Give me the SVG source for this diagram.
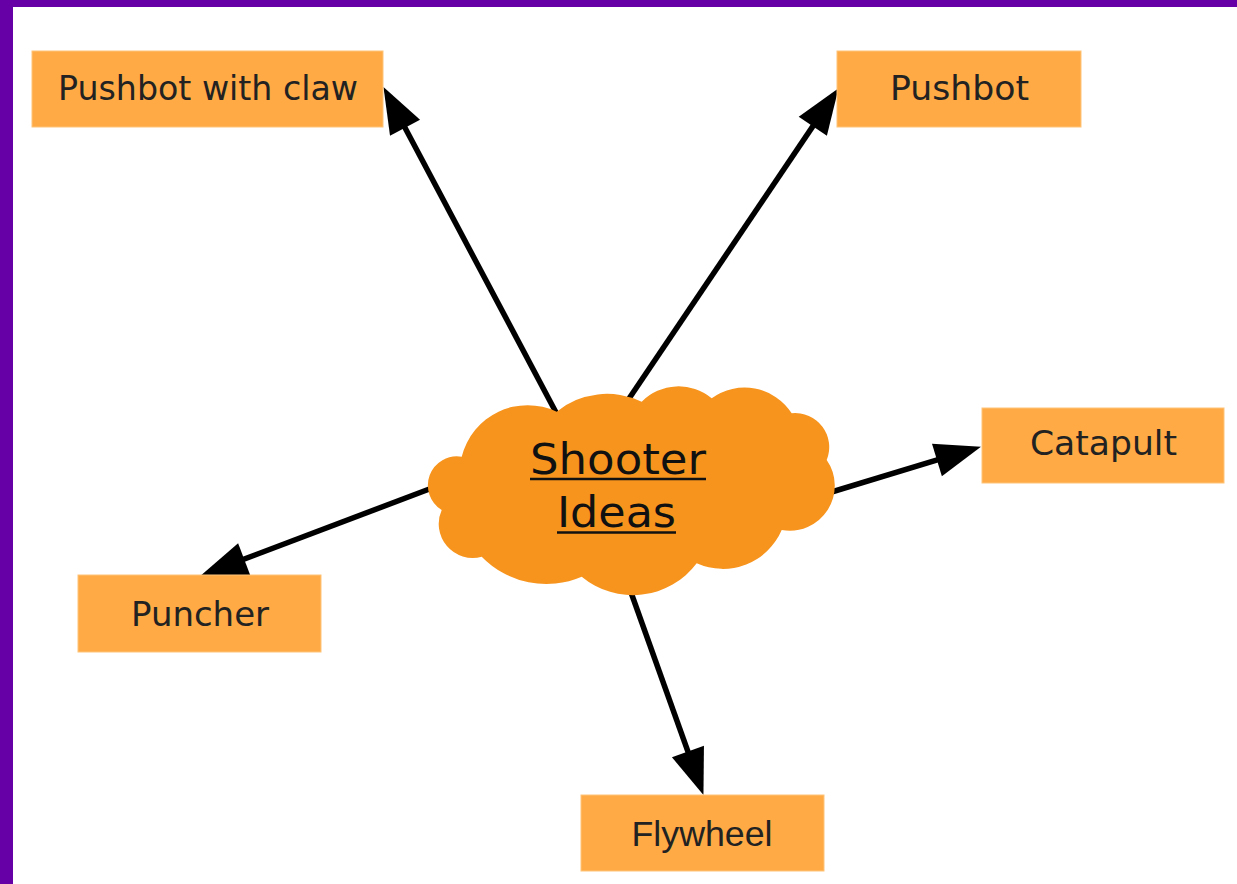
<svg xmlns="http://www.w3.org/2000/svg" width="1237" height="884" viewBox="0 0 1237 884">
<style>
.box{fill:#ffaa44;stroke:#ffc47a;stroke-width:1}
.lbl{font-family:"DejaVu Sans","Liberation Sans",sans-serif;font-size:33px;fill:#222;text-anchor:middle}
.cond{font-family:"Liberation Sans",Arial,sans-serif;font-size:35px;fill:#222;text-anchor:middle}
.title{font-family:"DejaVu Sans","Liberation Sans",sans-serif;font-size:42px;fill:#111;text-anchor:middle}
.edge{stroke:#000;stroke-width:5.5;fill:none;marker-end:url(#arr)}
.ul{stroke:#111;stroke-width:2.5}
</style>
<defs>
<marker id="arr" markerUnits="userSpaceOnUse" markerWidth="48" markerHeight="36" viewBox="0 -18 48 36" refX="15" refY="0" orient="auto" overflow="visible">
<path d="M0,-17 L46,0 L0,17 z" fill="#000"/>
</marker>
</defs>
<rect x="0" y="0" width="1237" height="884" fill="#ffffff"/>
<rect x="0" y="0" width="1237" height="7" fill="#6600a6"/>
<rect x="0" y="0" width="13" height="884" fill="#6600a6"/>
<g id="connectors">
<line class="edge" x1="560" y1="420" x2="398" y2="114.5"/>
<line class="edge" x1="624" y1="406" x2="821.2" y2="113.9"/>
<line class="edge" x1="825" y1="494" x2="951.3" y2="455.7"/>
<line class="edge" x1="440" y1="485" x2="230.1" y2="564.4"/>
<line class="edge" x1="628" y1="584" x2="693" y2="765.7"/>
</g>
<g id="cloud">
<path d="M461.7,456.7 A29,29 0 0 0 441.7,510 A34,34 0 0 0 481.7,556.7 A90,90 0 0 0 581.7,576.7 A80,80 0 0 0 696.7,563.3 A64,64 0 0 0 781.7,530 A45,45 0 0 0 826.7,460 A34,34 0 0 0 791.7,413.3 A56,56 0 0 0 711.7,398.3 A52,52 0 0 0 641.7,401.7 A80,80 0 0 0 556.7,411.7 A68,68 0 0 0 461.7,456.7 Z" fill="#f7941d"/>
<text class="title" x="618" y="474" textLength="176" lengthAdjust="spacingAndGlyphs">Shooter</text>
<line class="ul" x1="530" y1="479" x2="706" y2="479"/>
<text class="title" x="616.5" y="527" textLength="119" lengthAdjust="spacingAndGlyphs">Ideas</text>
<line class="ul" x1="557" y1="532.5" x2="676" y2="532.5"/>
</g>
<g id="pushbot-claw">
<rect class="box" x="32" y="51" width="351" height="76"/>
<text class="lbl" x="208" y="100" textLength="300" lengthAdjust="spacingAndGlyphs">Pushbot with claw</text>
</g>
<g id="pushbot">
<rect class="box" x="837" y="51" width="244" height="76"/>
<text class="lbl" x="959.5" y="100" textLength="139" lengthAdjust="spacingAndGlyphs">Pushbot</text>
</g>
<g id="catapult">
<rect class="box" x="982" y="408" width="242" height="75"/>
<text class="lbl" x="1103.5" y="455" textLength="147" lengthAdjust="spacingAndGlyphs">Catapult</text>
</g>
<g id="puncher">
<rect class="box" x="78" y="575" width="243" height="77"/>
<text class="lbl" x="200" y="626" textLength="138" lengthAdjust="spacingAndGlyphs">Puncher</text>
</g>
<g id="flywheel">
<rect class="box" x="581" y="795" width="243" height="76"/>
<text class="cond" x="702" y="846" textLength="141" lengthAdjust="spacingAndGlyphs">Flywheel</text>
</g>
</svg>
